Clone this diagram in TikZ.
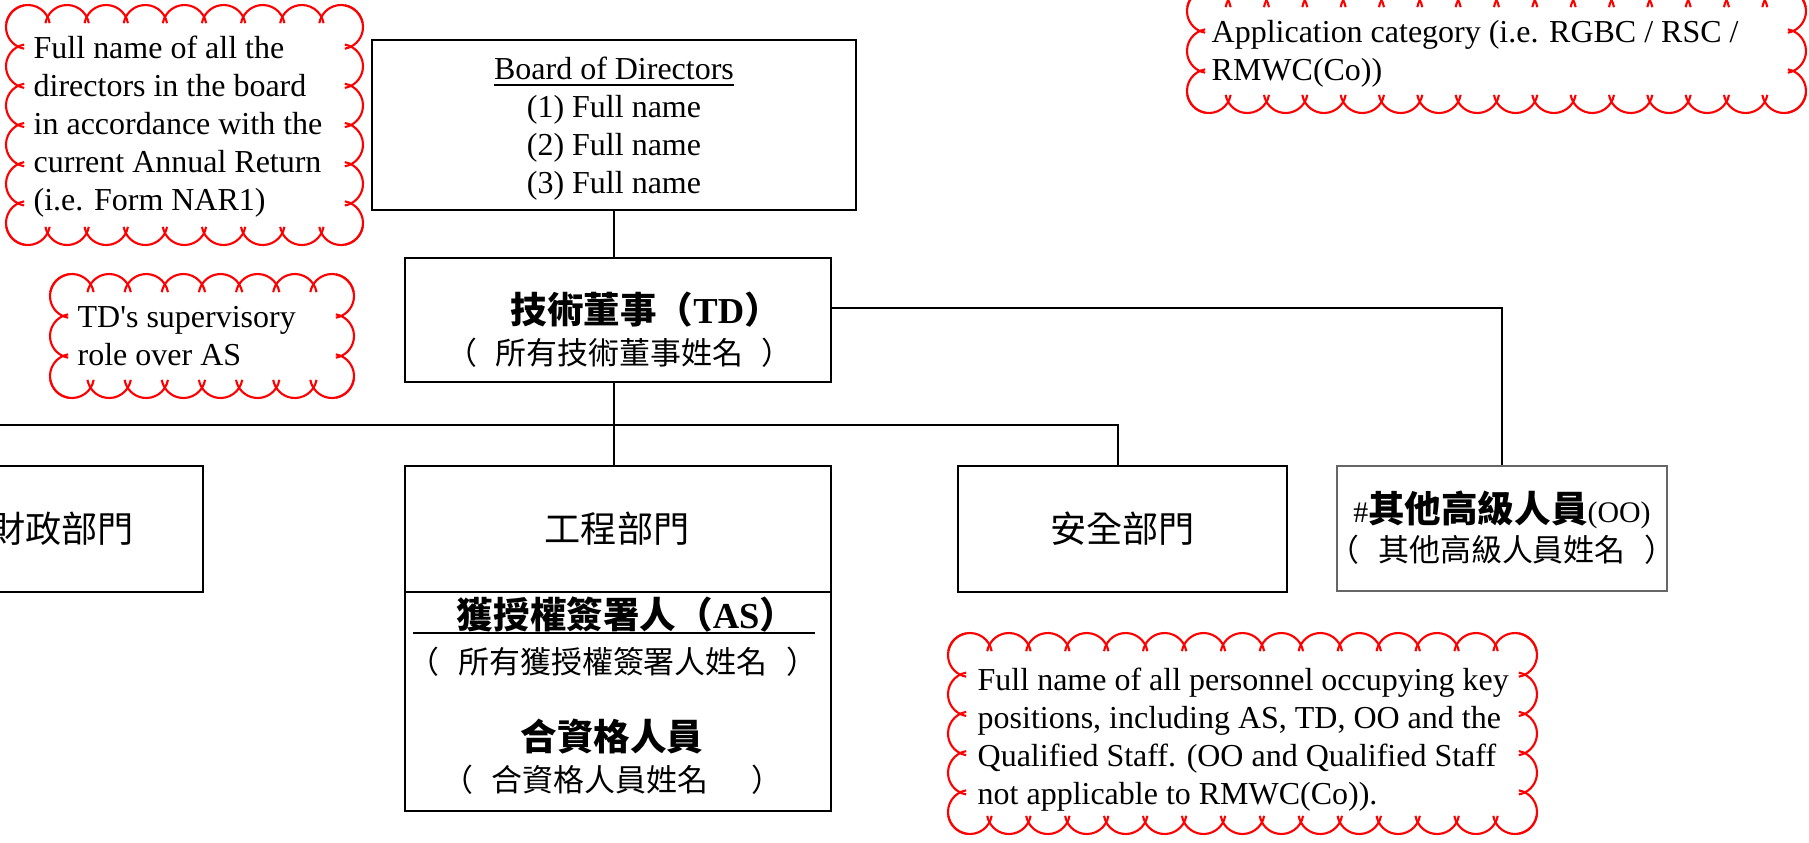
\documentclass[tikz,border=0pt]{standalone}
\usepackage{fontspec}
\setmainfont{Liberation Serif}
\newfontfamily\cjk{Noto Sans CJK TC}

\newcommand{\txtfont}{\fontsize{9.1}{10.8}\selectfont}
\newcommand{\headfont}{\cjk\bfseries\fontsize{10.4}{12}\selectfont}
\newcommand{\deptfont}{\cjk\fontsize{10.3}{12}\selectfont}
\newcommand{\namefont}{\cjk\fontsize{8.8}{10.5}\selectfont}

% scalloped red frame: left, top, right, bottom, bumps across, bumps down, radius
\newcommand{\cloudframe}[7]{%
    \foreach \k in {0,...,#5}{
        \pgfmathsetmacro{\bumpx}{(#1)+((#3)-(#1))*\k/#5}
        \draw[cloudline] (\bumpx,#2) ++(10:#7) arc[start angle=10, end angle=170, radius=#7];
        \draw[cloudline] (\bumpx,#4) ++(-10:#7) arc[start angle=-10, end angle=-170, radius=#7];
    }
    \foreach \k in {0,...,#6}{
        \pgfmathsetmacro{\bumpy}{(#2)+((#4)-(#2))*\k/#6}
        \draw[cloudline] (#1,\bumpy) ++(100:#7) arc[start angle=100, end angle=260, radius=#7];
        \draw[cloudline] (#3,\bumpy) ++(80:#7) arc[start angle=80, end angle=-80, radius=#7];
    }
}

\begin{document}
\begin{tikzpicture}[
    unitbox/.style={draw, line width=0.55pt, inner sep=0pt, align=center},
    boxtext/.style={inner sep=0pt},
    link/.style={line width=0.55pt},
    cloudline/.style={draw=red, line width=0.6pt},
    cloudtext/.style={anchor=west, inner sep=0pt, align=left, font=\txtfont},
]
    \useasboundingbox (0,0) rectangle (18.09,-8.42);
    \clip (0,0) rectangle (18.09,-8.42);

    % boxes
    \node[unitbox, minimum width=4.84cm, minimum height=1.70cm] (board) at (6.14,-1.25) {};
    \node[boxtext, align=center, font=\txtfont] (boardlist) at (6.14,-1.29)
        {\underline{Board of Directors}\\(1) Full name\\(2) Full name\\(3) Full name};
    \node[unitbox, minimum width=4.26cm, minimum height=1.24cm] (td) at (6.18,-3.20) {};
    \node[boxtext, anchor=west] (tdhead) at (5.10,-3.10) {\headfont 技術董事（{\rmfamily TD}）};
    \node[boxtext] (tdnames) at (6.195,-3.53) {\namefont （\hspace{0.6em}所有技術董事姓名\hspace{0.6em}）};

    \node[unitbox, minimum width=2.83cm, minimum height=1.26cm, font=\deptfont] (fin) at (0.615,-5.29) {財政部門};
    \node[unitbox, minimum width=4.26cm, minimum height=3.45cm] (eng) at (6.18,-6.385) {};
    \node[boxtext, font=\deptfont] (engname) at (6.17,-5.29) {工程部門};
    \draw[link] (eng.west |- 0,-5.92) -- (eng.east |- 0,-5.92);
    \node[boxtext] (ashead) at (6.265,-6.15) {\headfont 獲授權簽署人（{\rmfamily AS}）};
    \draw[link] (4.13,-6.33) -- (8.15,-6.33);
    \node[boxtext] (asnames) at (6.13,-6.62) {\namefont （\hspace{0.6em}所有獲授權簽署人姓名\hspace{0.6em}）};
    \node[boxtext] (qshead) at (6.12,-7.37) {\headfont 合資格人員};
    \node[boxtext] (qsnames) at (6.125,-7.80) {\namefont （\hspace{0.6em}合資格人員姓名\hspace{1.4em}）};

    \node[unitbox, minimum width=3.29cm, minimum height=1.26cm, font=\deptfont] (safe) at (11.225,-5.29) {安全部門};
    \node[unitbox, draw=black!60, line width=0.35pt, minimum width=3.30cm, minimum height=1.25cm] (oo) at (15.02,-5.285) {};
    \node[boxtext] (oohead) at (15.02,-5.10)
        {{\fontsize{8.5}{10}\selectfont\#}{\headfont 其他高級人員}{\fontsize{8.5}{10}\selectfont(OO)}};
    \node[boxtext] (oonames) at (15.02,-5.50) {\namefont （\hspace{0.6em}其他高級人員姓名\hspace{0.6em}）};

    % connectors
    \coordinate (busleft) at (0,-4.25);
    \coordinate (busmid) at (6.14,-4.25);
    \coordinate (busright) at (11.18,-4.25);
    \draw[link] (board.south) -- (board.south |- td.north);
    \draw[link] (td.south -| busmid) -- (busmid);
    \draw[link] (busleft) -- (busright) -- (busright |- safe.north);
    \draw[link] (busmid) -- (busmid |- eng.north);
    \draw[link] ([yshift=0.12cm]td.east) -| (oo.north);

    % notes
    \cloudframe{0.28}{-0.27}{3.41}{-2.23}{8}{5}{0.22}
    \node[cloudtext] (dirnote) at (0.33,-1.265)
        {Full name of all the\\directors in the board\\in accordance with the\\current Annual Return\\(i.e. Form NAR1)};
    \cloudframe{0.72}{-2.96}{3.32}{-3.76}{7}{2}{0.22}
    \node[cloudtext] (tdnote) at (0.77,-3.365) {TD\textquotesingle s supervisory\\role over AS};
    \cloudframe{12.09}{-0.11}{17.84}{-0.91}{15}{2}{0.22}
    \node[cloudtext] (catnote) at (12.11,-0.535) {Application category (i.e. RGBC / RSC /\\RMWC(Co))};
    \cloudframe{9.70}{-6.55}{15.15}{-8.12}{14}{4}{0.22}
    \node[cloudtext] (staffnote) at (9.77,-7.40)
        {Full name of all personnel occupying key\\positions, including AS, TD, OO and the\\Qualified Staff. (OO and Qualified Staff\\not applicable to RMWC(Co)).};
\end{tikzpicture}
\end{document}
